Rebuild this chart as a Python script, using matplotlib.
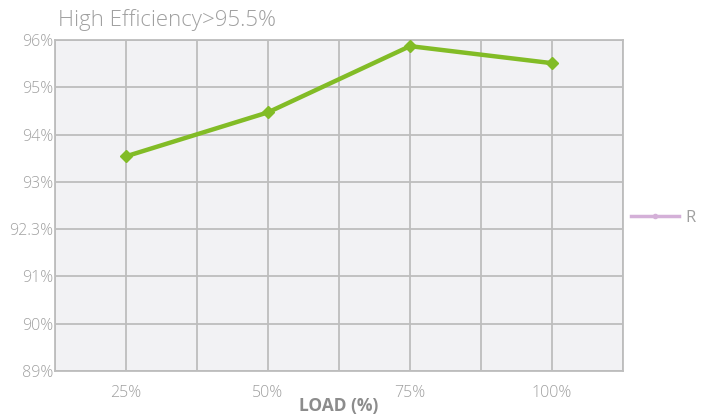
import numpy as np
import matplotlib
matplotlib.use("Agg")
import matplotlib.pyplot as plt
from matplotlib.lines import Line2D

loads = ["25%", "50%", "75%", "100%"]
efficiency = [93.54, 94.47, 95.87, 95.51]
ytick_values = [89, 90, 91, 92.3, 93, 94, 95, 96]
ytick_labels = ["89%", "90%", "91%", "92.3%", "93%", "94%", "95%", "96%"]

plt.rcParams['font.family'] = ['Open Sans', 'DejaVu Sans']

pos = np.arange(len(ytick_values), dtype=float)
tv = np.array(ytick_values, dtype=float)

def fwd(v):
    return np.interp(np.asarray(v, dtype=float), tv, pos)

def inv(p):
    return np.interp(np.asarray(p, dtype=float), pos, tv)

fig = plt.figure(figsize=(7.08, 4.16), dpi=100)
ax = fig.add_axes([55/708, 1-371/416, (623-55)/708, (371-40)/416])
ax.set_facecolor('#F2F2F4')
ax.set_yscale('function', functions=(fwd, inv))

x = np.arange(len(loads)) + 0.5
ax.plot(x, efficiency, color='#82BC26', lw=3.2, marker='D', ms=6.5, zorder=3)

ax.set_xlim(0, 4)
ax.set_ylim(89, 96)
ax.set_xticks(x)
ax.set_xticklabels(loads)
ax.xaxis.remove_overlapping_locs = False
ax.set_xticks(np.arange(0, 4.01, 0.5), minor=True)
ax.set_yticks(ytick_values)
ax.set_yticklabels(ytick_labels)
ax.yaxis.set_minor_locator(matplotlib.ticker.NullLocator())
ax.grid(True, which='minor', axis='x', color='#BDBDBD', lw=1.3)
ax.grid(True, which='major', axis='y', color='#BDBDBD', lw=1.3)
ax.set_axisbelow(True)
for s in ax.spines.values():
    s.set_color('#BDBDBD')
    s.set_linewidth(1.3)
ax.tick_params(which='both', length=0, colors='#A0A0A0', labelsize=11.5)
ax.tick_params(axis='x', pad=10)
ax.tick_params(axis='y', pad=1)
for lab in ax.get_xticklabels() + ax.get_yticklabels():
    lab.set_fontweight('light')

ax.set_xlabel('LOAD (%)', color='#8C8C8C', fontsize=12.5, fontweight='bold', labelpad=-3)
fig.text(58/708, 1-20/416, 'High Efficiency>95.5%', color='#A0A0A0', fontsize=16,
         fontweight='light', va='center', ha='left')

handle = Line2D([], [], color='#D4B0D8', lw=2.5, marker='o', ms=3)
fig.legend([handle], ['R'], loc='center left', bbox_to_anchor=(631/708, 1-218/416),
           frameon=False, labelcolor='#A0A0A0', fontsize=12, handlelength=2.9,
           handletextpad=0.35, borderpad=0, borderaxespad=0)

fig.savefig('out.png', dpi=100)
